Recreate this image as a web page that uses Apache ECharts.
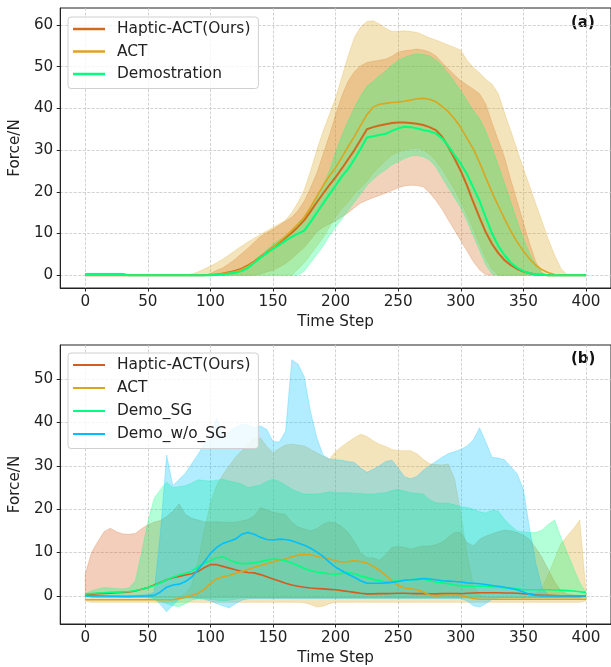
<!DOCTYPE html>
<html>
<head>
<meta charset="utf-8">
<script src="https://cdn.jsdelivr.net/npm/echarts@6/dist/echarts.min.js"></script>
<style>
  html, body { margin: 0; padding: 0; background: #fff; }
  #chart { width: 611px; height: 667px; }
</style>
</head>
<body>
<div id="chart"></div>
<script>
// time steps shared by both panels
var steps = [0,5,10,15,20,25,30,35,40,45,50,55,60,65,70,75,80,85,90,95,
  100,105,110,115,120,125,130,135,140,145,150,155,160,165,170,175,180,185,190,195,
  200,205,210,215,220,225,230,235,240,245,250,255,260,265,270,275,280,285,290,295,
  300,305,310,315,320,325,330,335,340,345,350,355,360,365,370,375,380,385,390,395,400];
var xTicks = [0, 50, 100, 150, 200, 250, 300, 350, 400];
var yTicksA = [0, 10, 20, 30, 40, 50, 60];
var yTicksB = [0, 10, 20, 30, 40, 50];

// ---- panel (a) ----
var hapMeanA = [0,0,0,0,0,0,0,0,0,0, 0,0,0,0,0,0,0,0,0,0,
  0.1,0.2,0.4,0.7,1.1,1.6,2.4,3.3,4.4,5.5, 6.7,7.8,9.0,10.2,11.6,13.2,15.3,17.5,19.6,21.6,
  23.5,25.6,27.8,30.0,32.5,35.0,35.5,35.9,36.2,36.5, 36.6,36.6,36.5,36.3,36.0,35.5,34.8,33.2,30.8,28.0,
  25.0,21.5,17.5,13.8,10.3,7.5,5.3,3.6,2.4,1.5, 0.9,0.5,0.2,0.1,0,0,0,0,0,0, 0];
var actMeanA = [0,0,0,0,0,0,0,0,0,0, 0,0,0,0,0,0,0,0,0,0,
  0.1,0.2,0.4,0.6,0.9,1.4,2.2,3.2,4.4,5.5, 6.7,8.0,9.3,10.8,12.3,13.9,16.3,18.9,21.5,23.8,
  25.8,28.3,30.8,33.3,35.9,38.5,40.3,41.0,41.2,41.4, 41.5,41.7,42.0,42.3,42.4,42.2,41.6,40.5,39.2,37.5,
  35.4,32.8,30.3,27.0,23.4,19.8,16.6,13.5,10.6,8.0, 5.8,3.9,2.4,1.3,0.6,0.2,0,0,0,0, 0];
var demoMeanA = [0.3,0.3,0.3,0.3,0.3,0.3,0.3,0,0,0, 0,0,0,0,0,0,0,0,0,0,
  0,0.1,0.2,0.4,0.6,1.0,1.8,3.0,4.2,5.3, 6.3,7.3,8.3,9.2,10.0,10.7,12.8,15.0,17.2,19.4,
  21.5,23.7,25.5,27.8,30.3,33.0,33.3,33.6,33.9,34.6, 35.2,35.6,35.5,35.2,34.8,34.5,34.0,32.8,31.0,28.8,
  26.7,24.2,21.0,17.8,13.8,10.0,7.0,4.8,3.0,1.8, 1.0,0.5,0.2,0.1,0,0,0,0,0,0, 0];

var hapUpA = [0,0,0,0,0,0,0,0,0,0, 0,0,0,0,0,0,0,0,0,0,
  0.4,1.2,1.8,2.8,3.9,5.2,6.5,7.9,9.3,10.2, 11.0,12.0,13.0,13.9,15.5,17.8,21.0,24.5,29.0,33.5,
  38.5,43.0,46.5,48.8,50.2,51.0,51.3,51.5,51.8,52.5, 53.5,53.8,54.0,54.2,54.0,53.5,52.6,51.0,49.5,48.0,
  46.6,45.6,44.6,43.5,41.0,36.5,32.3,28.2,22.8,17.8, 12.6,7.6,3.2,0.5,0,0,0,0,0,0, 0];
var hapLoA = [0,0,0,0,0,0,0,0,0,0, 0,0,0,0,0,0,0,0,0,0,
  0,0,0,0,0,0,0,0,0.3,0.8, 1.2,2.0,2.8,4.0,5.4,6.7,8.5,10.4,11.5,12.3,
  13.0,14.0,15.0,16.2,17.3,18.0,18.6,19.1,19.7,20.3, 21.0,21.4,21.6,21.5,21.2,19.8,18.0,15.8,13.3,10.8,
  8.3,5.8,3.3,1.3,0.1,0,0,0,0,0, 0,0,0,0,0,0,0,0,0,0, 0];
var actUpA = [0,0,0,0,0,0,0,0,0,0, 0,0,0,0,0,0,0,0.3,0.8,1.5,
  2.2,3.0,3.9,4.9,6.0,7.0,8.0,8.9,9.8,10.6, 11.5,12.3,13.2,15.0,17.5,20.5,25.0,30.0,34.5,38.5,
  42.5,47.5,52.5,57.0,59.5,60.8,61.0,60.2,59.2,58.4, 58.5,58.6,58.4,58.2,57.6,56.9,56.4,55.8,55.2,54.6,
  53.9,51.5,49.8,48.5,47.0,45.8,43.5,38.8,34.6,30.0, 25.6,21.4,17.0,12.8,8.5,4.8,1.6,0.1,0,0, 0];
var actLoA = [0,0,0,0,0,0,0,0,0,0, 0,0,0,0,0,0,0,0,0,0,
  0,0,0,0,0,0,0,0,0,0, 0,0,0,0,1.5,3,5,7,9,11.5,
  14,16,17.5,19.5,21,22.5,24.5,26,27.5,28.8, 29.5,30,30.3,30.5,30,29,27.5,25.5,23,20.5,
  17.5,14.5,11,7.5,4,1.5,0,0,0,0, 0,0,0,0,0,0,0,0,0,0, 0];
var demoUpA = [0.5,0.5,0.5,0.5,0.5,0.5,0.5,0,0,0, 0,0,0,0,0,0,0,0,0,0,
  0,0.1,0.3,0.6,1.0,1.6,2.5,3.6,4.8,6.1, 7.5,8.5,9.5,10.5,12.3,14.2,16.3,18.8,21.5,25.0,
  29.5,33.5,37.0,40.2,43.0,45.3,46.5,47.8,49.0,50.3, 51.5,52.2,52.8,53.0,52.9,52.6,51.6,50.2,48.4,46.3,
  44.2,41.8,39.5,37.5,34.5,30.5,26.3,22.0,17.5,13.0, 8.8,5.2,2.3,0.6,0,0,0,0,0,0, 0];
var demoLoA = [0.1,0.1,0.1,0.1,0.1,0.1,0.1,0,0,0, 0,0,0,0,0,0,0,0,0,0,
  0,0,0,0,0,0,0,0,0,0, 0,0,0,0,0,1,3,5,7,9.5,
  11.5,13.5,15.5,17.5,19.5,21.5,23,24.3,25.3,26.5, 27.2,28,28.6,28.7,28.4,27.6,26,23.5,21,18.6,
  16.2,13,9.5,6,2.5,0.3,0,0,0,0, 0,0,0,0,0,0,0,0,0,0, 0];

// ---- panel (b) ----
var hapMeanB = [0.15,0.4,0.5,0.55,0.6,0.7,0.8,0.9,1.1,1.5, 1.9,2.5,3.1,3.7,4.2,4.5,4.8,5.1,5.6,6.5,
  7.2,7.2,6.8,6.4,6.0,5.6,5.4,5.3,4.9,4.4, 3.9,3.4,2.9,2.5,2.2,2.0,1.8,1.7,1.6,1.5,
  1.4,1.2,1.0,0.8,0.6,0.45,0.45,0.5,0.5,0.55, 0.6,0.6,0.55,0.5,0.5,0.45,0.45,0.5,0.5,0.5,
  0.5,0.6,0.65,0.7,0.7,0.7,0.7,0.65,0.65,0.6, 0.5,0.4,0.25,0.15,0.1,0.05,0,0,0,0, 0];
var actMeanB = [-0.9,-0.9,-0.9,-0.9,-0.9,-0.9,-0.9,-0.9,-0.9,-0.9, -0.9,-0.9,-0.9,-0.9,-0.9,-0.6,-0.3,0.1,0.6,1.5,
  2.8,3.9,4.4,4.7,5.2,5.6,6.1,6.6,7.0,7.4, 7.9,8.2,8.5,9.0,9.4,9.6,9.5,9.1,8.8,8.5,
  8.1,7.8,7.9,8.1,7.9,7.6,6.8,5.9,4.8,3.4, 2.4,1.8,1.6,1.4,0.9,0.2,0.0,0.1,0.2,0.2,
  0.1,-0.3,-0.6,-0.8,-0.8,-0.8,-0.8,-0.8,-0.8,-0.8, -0.8,-0.8,-0.8,-0.8,-0.8,-0.8,-0.8,-0.8,-0.8,-0.8, -0.8];
var sgMeanB = [0.45,0.55,0.65,0.7,0.8,0.85,0.9,1.0,1.2,1.5, 1.9,2.4,3.0,3.7,4.3,4.8,5.2,5.7,6.6,7.6,
  8.1,8.8,9.0,8.3,7.7,7.4,7.5,7.6,7.9,8.2, 8.5,8.4,8.1,7.6,7.0,6.3,5.8,5.5,5.3,5.1,
  5.0,5.2,5.4,5.1,4.6,4.2,3.8,3.5,3.2,3.3, 3.5,3.6,3.7,3.8,3.9,3.5,3.2,3.0,2.8,2.5,
  2.3,2.25,2.2,2.2,2.2,2.1,2.0,1.9,1.8,1.6, 1.4,1.4,1.4,1.4,1.4,1.35,1.3,1.2,1.1,0.95, 0.8];
var blueMeanB = [0,0,0,-0.05,-0.1,-0.1,-0.15,-0.15,-0.1,-0.05, 0,0.1,0.9,2.0,2.5,2.7,3.3,4.3,6.0,7.8,
  9.8,11.2,12.1,12.6,13.1,14.2,14.6,14.2,13.5,13.0, 12.9,13.1,13.0,12.7,12.2,11.7,11.0,10.1,9.1,7.8,
  6.6,5.8,5.0,4.3,3.5,2.9,2.9,2.9,3.0,3.1, 3.3,3.6,3.7,3.8,4.0,3.9,3.7,3.5,3.4,3.3,
  3.2,3.0,2.9,2.8,2.6,2.4,2.2,2.0,1.7,1.4, 0.9,0.3,0.1,0,0,0,0,0,0,0, 0];

var hapUpB = [5.0,10.0,12.5,14.8,15.6,14.8,14.3,14.2,14.4,15.5, 16.4,17.0,17.4,18.3,19.5,21.2,18.8,17.9,17.5,17.1,
  17.0,17.1,17.0,16.9,17.0,17.3,17.6,18.5,20.4,19.8, 19.3,19.0,18.8,17.0,15.9,15.4,15.0,15.5,16.5,17.1,
  16.8,16.0,14.6,12.5,10.0,8.8,8.8,8.2,9.5,11.2, 11.4,11.2,10.8,11.2,11.5,11.5,11.8,12.4,13.5,14.7,
  14.6,12.3,11.5,13.0,13.8,14.3,14.8,15.2,15.0,14.6, 14.0,13.0,11.0,8.8,6.0,3.2,1.2,0.4,0.2,0.1, 0];
var hapLoB = [0,-0.4,-0.4,-0.4,-0.4,-0.4,-0.4,-0.4,-0.4,-0.4, -0.4,-0.4,-0.4,-0.4,-0.4,-0.4,-0.4,-0.4,-0.4,-0.4,
  -0.4,-0.4,-0.4,-0.4,-0.4,-0.4,-0.4,-0.4,-0.4,-0.4, -0.4,-0.4,-0.4,-0.4,-0.4,-0.4,-0.4,-0.4,-0.4,-0.4,
  -0.4,-0.4,-0.4,-0.4,-0.4,-0.4,-0.4,-0.4,-0.4,-0.4, -0.4,-0.4,-0.4,-0.4,-0.4,-0.4,-0.4,-0.4,-0.4,-0.4,
  -0.4,-0.4,-0.4,-0.4,-0.4,-0.4,-0.4,-0.4,-0.4,-0.4, -0.4,-0.4,-0.4,-0.4,-0.4,-0.4,-0.4,-0.4,-0.4,-0.4, 0];
var actUpB = [-0.2,-0.2,-0.2,-0.2,-0.2,-0.2,-0.2,-0.2,-0.2,-0.2, -0.2,-0.2,-0.2,-0.2,-0.2,-0.2,0.5,2.5,8.0,15.0,
  21.5,25.5,28.0,30.0,32.0,33.5,35.0,36.5,36.4,34.5, 33.0,34.0,34.8,35.0,34.8,34.6,33.8,33.0,32.2,31.5,
  33.3,34.5,35.5,36.5,37.3,36.8,35.8,35.0,34.5,33.8, 33.5,33.5,33.5,32.8,31.5,30.5,30.3,30.2,30.4,27.0,
  19.2,9.5,2.5,0.2,-0.3,-0.3,-0.3,-0.3,-0.3,-0.3, -0.3,-0.3,0.5,2.0,5.0,8.5,12.0,13.8,15.5,17.5, 1.0];
var actLoB = [-1.2,-1.5,-1.5,-1.5,-1.5,-1.5,-1.5,-1.5,-1.5,-1.5, -1.5,-1.5,-1.5,-1.5,-1.5,-1.5,-1.5,-1.5,-1.5,-1.5,
  -1.5,-1.5,-1.5,-1.5,-1.5,-1.5,-1.5,-1.5,-1.5,-1.5, -1.5,-1.5,-1.5,-1.5,-1.5,-1.6,-2.0,-2.6,-2.4,-1.8,
  -1.5,-1.5,-1.5,-1.5,-1.5,-1.5,-1.5,-1.5,-1.5,-1.5, -1.5,-1.5,-1.5,-1.5,-1.5,-1.5,-1.5,-1.5,-1.5,-1.5,
  -1.5,-1.5,-1.5,-1.5,-1.5,-1.5,-1.5,-1.5,-1.5,-1.5, -1.5,-1.5,-1.5,-1.5,-1.5,-1.5,-1.5,-1.5,-1.5,-1.5, -1.2];
var sgUpB = [0.4,1.2,1.6,1.9,1.8,1.7,1.6,1.8,3.5,10.0, 17.0,22.5,24.5,26.2,25.0,25.2,25.4,26.0,26.8,26.6,
  26.5,26.7,26.9,26.5,26.2,25.8,25.0,25.3,25.6,26.4, 26.9,26.4,25.6,24.6,24.0,23.5,23.5,23.5,23.7,24.0,
  23.8,23.8,23.8,23.7,23.6,23.5,23.5,23.7,23.8,24.3, 24.6,24.2,23.8,23.6,23.5,22.2,21.5,21.4,21.4,21.0,
  20.6,20.4,20.0,19.4,19.1,19.8,19.5,17.6,16.2,15.0, 14.7,14.6,14.6,15.2,16.5,17.5,13.5,10.0,6.5,3.1, 0.8];
var sgLoB = [0,-0.3,-0.4,-0.4,-0.4,-0.4,-0.4,-0.4,-0.4,-0.4, -0.4,-0.8,-1.3,-1.8,-2.3,-2.5,-1.8,-1.0,-0.7,-0.6,
  -0.8,-1.0,-1.2,-1.0,-0.8,-0.5,-0.5,-0.5,-0.5,-0.5, -0.5,-0.5,-0.5,-0.5,-0.5,-0.5,-0.5,-0.5,-0.5,-0.5,
  -0.5,-0.5,-0.5,-0.5,-0.5,-0.5,-0.5,-0.5,-0.5,-0.5, -0.5,-0.5,-0.5,-0.5,-0.5,-0.5,-0.5,-0.5,-0.5,-0.5,
  -0.5,-0.5,-0.5,-0.5,-0.5,-0.5,-0.5,-0.5,-0.5,-0.5, -0.5,-0.5,-0.5,-0.5,-0.5,-0.5,-0.5,-0.5,-0.5,-0.5, 0];
var blueUpB = [0,0.1,0.1,0.1,0.1,0.1,0.1,0.1,0.1,0.2, 0.3,0.8,14.5,32.5,25.4,26.9,28.3,30.5,32.6,35.0,
  36.5,41.0,36.5,38.0,39.0,39.6,39.4,38.9,39.2,38.4, 35.6,35.5,38.0,54.5,53.5,50.5,42.5,36.5,32.5,31.6,
  31.4,31.3,31.0,30.8,29.5,28.5,29.2,30.0,31.0,31.3, 29.5,27.5,27.0,27.6,29.0,30.0,31.0,32.0,32.8,33.3,
  33.8,34.6,36.0,38.8,35.5,32.0,31.8,31.4,29.8,28.2, 24.6,15.5,7.5,1.8,0.2,0.1,0.1,0.1,0.1,0.1, 0.1];
var blueLoB = [-0.1,-0.1,-0.1,-0.1,-0.1,-0.1,-0.1,-0.1,-0.1,-0.1, -0.1,-0.6,-2.0,-3.7,-2.2,-0.8,-0.5,-0.5,-0.6,-0.8,
  -1.2,-1.8,-2.3,-2.8,-1.8,-1.0,-0.7,-0.6,-0.6,-0.6, -0.6,-0.6,-0.6,-0.6,-0.6,-0.6,-0.6,-0.6,-0.6,-0.6,
  -0.6,-0.6,-0.6,-0.6,-0.6,-0.6,-0.6,-0.6,-0.6,-0.6, -0.6,-0.6,-0.6,-0.6,-0.6,-0.6,-0.6,-0.6,-0.6,-0.6,
  -0.6,-1.2,-2.3,-2.6,-1.8,-0.8,-0.5,-0.4,-0.4,-0.4, -0.4,-0.4,-0.4,-0.4,-0.4,-0.4,-0.4,-0.4,-0.4,-0.4, -0.4];

var font = 'DejaVu Sans';
var ink = '#222';

function hexAlpha(hex, a) {
  var n = parseInt(hex.slice(1), 16);
  return 'rgba(' + (n >> 16 & 255) + ',' + (n >> 8 & 255) + ',' + (n & 255) + ',' + a + ')';
}

// filled band between lo and hi, drawn as one polygon through the axis scales
function band(name, idx, lo, hi, color) {
  return {
    type: 'custom', name: name, xAxisIndex: idx, yAxisIndex: idx,
    clip: true, silent: true, z: 1,
    data: steps.map(function (x, i) { return [x, lo[i], hi[i]]; }),
    encode: { x: 0, y: [1, 2] },
    renderItem: function (params, api) {
      if (params.dataIndex !== 0) return null;
      var pts = [];
      for (var i = 0; i < steps.length; i++) pts.push(api.coord([steps[i], hi[i]]));
      for (var j = steps.length - 1; j >= 0; j--) pts.push(api.coord([steps[j], lo[j]]));
      return {
        type: 'polygon', shape: { points: pts },
        style: { fill: hexAlpha(color, 0.3), stroke: hexAlpha(color, 0.3), lineWidth: 0.8 }
      };
    }
  };
}

function line(name, idx, ys, color, w) {
  return {
    type: 'line', name: name, xAxisIndex: idx, yAxisIndex: idx,
    data: steps.map(function (x, i) { return [x, ys[i]]; }),
    showSymbol: false, symbol: 'none', z: 3, clip: true,
    color: color,
    lineStyle: { color: color, width: w }
  };
}

function xAxisOf(idx) {
  return {
    gridIndex: idx, type: 'value', min: -20, max: 420,
    axisLine: { show: true, onZero: false, lineStyle: { color: ink, width: 1 } },
    axisTick: { show: true, customValues: xTicks, length: 3.5, lineStyle: { color: ink } },
    axisLabel: { customValues: xTicks, margin: 6.5, fontSize: 15.2, color: ink, fontFamily: font },
    splitLine: { show: true, lineStyle: { color: '#c8c8c8', type: [3, 1.5], width: 0.8 } },
    name: 'Time Step', nameLocation: 'middle', nameGap: 27,
    nameTextStyle: { fontSize: 15.2, color: ink, fontFamily: font }
  };
}

function yAxisOf(idx, min, max, ticks) {
  return {
    gridIndex: idx, type: 'value', min: min, max: max,
    axisLine: { show: true, onZero: false, lineStyle: { color: ink, width: 1 } },
    axisTick: { show: true, customValues: ticks, length: 3.5, lineStyle: { color: ink } },
    axisLabel: { customValues: ticks, margin: 7, fontSize: 15.2, color: ink, fontFamily: font },
    splitLine: { show: true, lineStyle: { color: '#c8c8c8', type: [3, 1.5], width: 0.8 } },
    name: 'Force/N', nameLocation: 'middle', nameGap: 26, nameRotate: 90,
    nameTextStyle: { fontSize: 15.2, color: ink, fontFamily: font }
  };
}

function legendOf(top, items, h, gap) {
  return {
    orient: 'vertical', left: 68, top: top,
    icon: 'rect', itemWidth: 32, itemHeight: h, itemGap: gap,
    padding: [3.5, 8, 6, 5],
    backgroundColor: 'rgba(255,255,255,0.8)',
    borderColor: '#d0d0d0', borderWidth: 1, borderRadius: 3,
    textStyle: { fontSize: 15.4, color: ink, fontFamily: font, lineHeight: 17, padding: [0, 0, 0, 7] },
    selectedMode: false,
    data: items.map(function (it) { return { name: it[0], itemStyle: { color: it[1] } }; })
  };
}

var cHapA = '#d2691e', cHapB = '#d35c1e', cAct = '#daa520', cDemo = '#00ff7f', cBlue = '#00bfff';

var option = {
  animation: false,
  backgroundColor: '#fff',
  grid: [
    { left: 60, top: 8, width: 554, height: 280, show: true, borderColor: ink, borderWidth: 1, backgroundColor: 'transparent' },
    { left: 60, top: 345, width: 554, height: 280, show: true, borderColor: ink, borderWidth: 1, backgroundColor: 'transparent' }
  ],
  xAxis: [xAxisOf(0), xAxisOf(1)],
  yAxis: [yAxisOf(0, -3.05, 64.05, yTicksA), yAxisOf(1, -6.5, 57.9, yTicksB)],
  legend: [
    legendOf(17, [['Haptic-ACT(Ours)', cHapA], ['ACT', cAct], ['Demostration', cDemo]], 2.5, 5.5),
    legendOf(353, [['Haptic-ACT(Ours)', cHapB], ['ACT', cAct], ['Demo_SG', cDemo], ['Demo_w/o_SG', cBlue]], 2, 6)
  ],
  graphic: [
    { type: 'text', left: 571, top: 16, style: { text: '(a)', font: 'bold 15px "DejaVu Sans"', fill: '#111' } },
    { type: 'text', left: 571, top: 352, style: { text: '(b)', font: 'bold 15px "DejaVu Sans"', fill: '#111' } }
  ],
  series: [
    band('band-hap-a', 0, hapLoA, hapUpA, cHapA),
    band('band-act-a', 0, actLoA, actUpA, cAct),
    band('band-demo-a', 0, demoLoA, demoUpA, cDemo),
    line('Haptic-ACT(Ours)', 0, hapMeanA, cHapA, 2),
    line('ACT', 0, actMeanA, cAct, 1.6),
    line('Demostration', 0, demoMeanA, cDemo, 2),

    band('band-hap-b', 1, hapLoB, hapUpB, cHapB),
    band('band-act-b', 1, actLoB, actUpB, cAct),
    band('band-sg-b', 1, sgLoB, sgUpB, cDemo),
    band('band-blue-b', 1, blueLoB, blueUpB, cBlue),
    line('Haptic-ACT(Ours)', 1, hapMeanB, cHapB, 1.6),
    line('ACT', 1, actMeanB, cAct, 1.6),
    line('Demo_SG', 1, sgMeanB, cDemo, 1.6),
    line('Demo_w/o_SG', 1, blueMeanB, cBlue, 1.6)
  ]
};

var myChart = echarts.init(document.getElementById('chart'));
myChart.setOption(option);
</script>
</body>
</html>
